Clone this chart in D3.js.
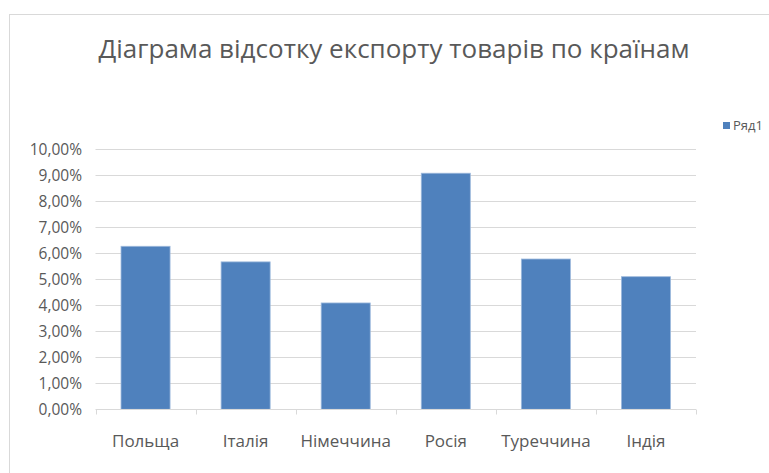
<!DOCTYPE html>
<html><head><meta charset="utf-8">
<script src="https://cdn.jsdelivr.net/npm/d3@7"></script>
<style>body{margin:0;background:#fff}svg{display:block}</style>
</head><body>
<svg id="c" width="769" height="473"></svg>
<script>
const categories = ["Польща","Італія","Німеччина","Росія","Туреччина","Індія"];
const values = [0.0627, 0.0567, 0.0409, 0.0908, 0.0578, 0.0510];
const yTicks = [0,0.01,0.02,0.03,0.04,0.05,0.06,0.07,0.08,0.09,0.10];
const seriesName = "Ряд1";
const title = "Діаграма відсотку експорту товарів по країнам";

const svg = d3.select("#c");
const font = "'Open Sans', 'Noto Sans', sans-serif";
// outer chart border
svg.append("rect").attr("x",9.5).attr("y",14.5).attr("width",800).attr("height",500)
  .attr("fill","#fff").attr("stroke","#d9d9d9").attr("stroke-width",1);

const x = d3.scaleBand().domain(categories).range([95.5,696]).paddingInner(0.51).paddingOuter(0.255);
const y = d3.scaleLinear().domain([0,0.10]).range([409.3,149.3]);

// gridlines
svg.append("g").selectAll("line").data(yTicks.slice(1)).join("line")
  .attr("x1",95.5).attr("x2",696).attr("y1",d=>Math.round(y(d))+0.5).attr("y2",d=>Math.round(y(d))+0.5)
  .attr("stroke","#d9d9d9");

// y labels
const fmt = d => (d*100).toFixed(2).replace(".",",")+"%";
svg.append("g").selectAll("text").data(yTicks).join("text")
  .attr("x",82).attr("y",d=>y(d)).attr("dy","0.35em").attr("text-anchor","end")
  .attr("font-family",font).attr("font-size",15.5).attr("fill","#595959").text(fmt);

// bars
svg.append("g").selectAll("rect").data(values).join("rect")
  .attr("x",(d,i)=>x(categories[i])).attr("width",x.bandwidth())
  .attr("y",d=>y(d)).attr("height",d=>y(0)-y(d))
  .attr("fill","#4f81bd").attr("stroke","#9db9dc").attr("stroke-width",0.8);

// x axis
const xa = d3.axisBottom(x).tickSize(0).tickPadding(25);
const gx = svg.append("g").attr("transform",`translate(0,${Math.round(y(0))+0.5})`).call(xa);
gx.select(".domain").remove();
gx.append("line").attr("x1",95.5).attr("x2",696).attr("stroke","#d9d9d9");
const bounds = d3.range(categories.length+1).map(i=>95.5+i*(600.5/categories.length));
gx.selectAll(".tk").data(bounds).join("line").attr("class","tk")
  .attr("x1",d=>Math.round(d)+0.5).attr("x2",d=>Math.round(d)+0.5).attr("y1",0).attr("y2",5).attr("stroke","#d9d9d9");
gx.selectAll(".tick text").attr("font-family",font).attr("font-size",17).attr("fill","#595959");

// title
svg.append("text").attr("x",394).attr("y",58).attr("text-anchor","middle")
  .attr("font-family",font).attr("font-size",26).attr("fill","#595959").text(title);

// legend
const lg = svg.append("g");
lg.append("rect").attr("x",723).attr("y",122).attr("width",7).attr("height",7).attr("fill","#4f81bd");
lg.append("text").attr("x",733).attr("y",125.5).attr("dy","0.35em")
  .attr("font-family",font).attr("font-size",13).attr("fill","#595959").text(seriesName);
</script>
</body></html>
